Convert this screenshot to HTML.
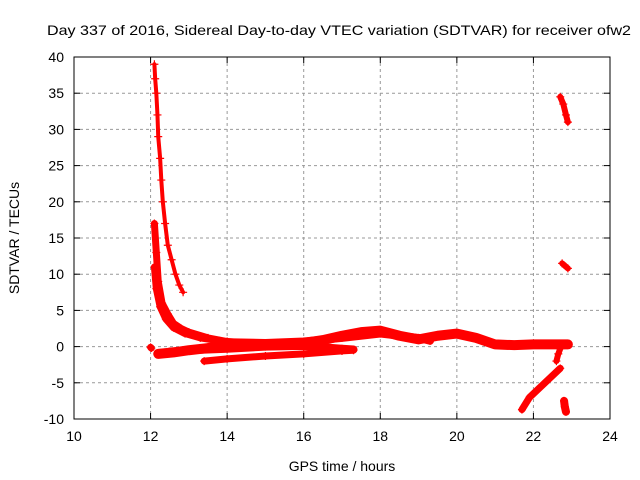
<!DOCTYPE html>
<html><head><meta charset="utf-8"><style>
body{margin:0;background:#fff;}
svg{display:block;font-family:"Liberation Sans",sans-serif;}
</style></head><body>
<svg id="chart" width="640" height="480">
<text x="339" y="35" font-size="14" text-anchor="middle" textLength="584" lengthAdjust="spacingAndGlyphs">Day 337 of 2016, Sidereal Day-to-day VTEC variation (SDTVAR) for receiver ofw2</text>
<text x="342" y="471" font-size="14" text-anchor="middle">GPS time / hours</text>
<text x="19" y="238" font-size="14" text-anchor="middle" transform="rotate(-90 19 238)">SDTVAR / TECUs</text>
<g id="grid"></g><g id="ticks"></g><g id="marks"></g>
<rect x="74" y="57" width="536" height="362" fill="none" stroke="#000" stroke-width="1"/>
</svg>
<script>
const xTicks=[10,12,14,16,18,20,22,24];
const yTicks=[-10,-5,0,5,10,15,20,25,30,35,40];
const trackA_t=[12.1,12.12,12.15,12.18,12.2,12.25,12.28,12.32,12.38,12.45,12.55,12.65,12.75,12.85];
const trackA_v=[39,37,35,32,29,26,23,20,17,14,12,10,8.5,7.5];
const trackB_t=[12.1,12.15,12.2,12.3,12.45,12.6,12.8,13,13.5,14,14.5];
const trackB_v=[17,13,9,6,4.5,3.2,2.5,2,1.2,0.7,0.5];
const trackC_t=[12.1,12.15,12.25,12.4,12.6,12.9,13.3,13.8,14.3];
const trackC_v=[11,8,5.5,3.8,2.6,1.8,1.2,0.8,0.5];
const trackD_t=[12.2,12.6,13,13.5,14,15,16,16.5,17,17.5,18,18.5,19,19.5,20,20.5,21,21.5,22,22.5,22.9];
const trackD_v=[-1,-0.8,-0.5,-0.2,0,0.2,0.5,0.9,1.5,2,2.2,1.5,1,1.5,1.8,1.2,0.3,0.2,0.3,0.3,0.3];
const trackE_t=[12.5,13,14,15,16,17,17.3];
const trackE_v=[-0.7,-0.5,-0.3,0,0.1,-0.3,-0.4];
const trackF_t=[13.4,14,15,16,17,17.3];
const trackF_v=[-2,-1.7,-1.3,-1,-0.6,-0.5];
const trackG_t=[14,15,16,17,18,19,19.3];
const trackG_v=[0.6,0.5,0.7,1.2,1.8,1.2,0.8];
const trackH_t=[21.7,21.9,22.1,22.3,22.5,22.7];
const trackH_v=[-8.7,-7,-6,-5,-4,-3];
const trackI_t=[22.6,22.65,22.7];
const trackI_v=[-2,-1,-0.3];
const trackJ_t=[22.7,22.78,22.85,22.9];
const trackJ_v=[34.5,33.5,32,31];
const trackK_t=[22.75,22.9];
const trackK_v=[11.5,10.8];
const trackL_t=[22.8,22.82,22.85];
const trackL_v=[-7.5,-8.3,-9];
const trackM_t=[12,12.02];
const trackM_v=[-0.1,-0.2];
const X=h=>74+(h-10)*536/14, Y=v=>57+(40-v)*362/50;
const NS='http://www.w3.org/2000/svg';
function mk(tag,attrs,parent){const e=document.createElementNS(NS,tag);for(const k in attrs)e.setAttribute(k,attrs[k]);parent.appendChild(e);return e;}
const grid=document.getElementById('grid'),ticks=document.getElementById('ticks'),marks=document.getElementById('marks');
xTicks.forEach(t=>{const x=X(t);
 if(t>10&&t<24){const g=mk('line',{x1:x,x2:x,y1:57,y2:419,stroke:'#999','stroke-dasharray':'3,3'},grid);
 }
 mk('line',{x1:x,x2:x,y1:419,y2:413,stroke:'#000'},ticks);mk('line',{x1:x,x2:x,y1:57,y2:63,stroke:'#000'},ticks);
 const l=mk('text',{x:x,y:441,'font-size':14,'text-anchor':'middle'},ticks);l.textContent=t;
 });
yTicks.forEach(t=>{const y=Y(t);
 if(t>-10&&t<40){const g=mk('line',{x1:74,x2:610,y1:y,y2:y,stroke:'#999','stroke-dasharray':'3,3'},grid);
 }
 mk('line',{x1:74,x2:80,y1:y,y2:y,stroke:'#000'},ticks);mk('line',{x1:610,x2:604,y1:y,y2:y,stroke:'#000'},ticks);
 const l=mk('text',{x:64,y:y+5,'font-size':14,'text-anchor':'end'},ticks);l.textContent=t;
 });
const tracks=[[trackA_t,trackA_v,4],[trackB_t,trackB_v,7],[trackC_t,trackC_v,7],[trackD_t,trackD_v,10],[trackE_t,trackE_v,8],[trackF_t,trackF_v,7],[trackG_t,trackG_v,8],[trackH_t,trackH_v,7],[trackI_t,trackI_v,6],[trackJ_t,trackJ_v,6],[trackK_t,trackK_v,6],[trackL_t,trackL_v,8],[trackM_t,trackM_v,7]];
tracks.forEach(([ts,vs,w],i)=>{
 const pts=ts.map((t,j)=>X(t)+','+Y(vs[j])).join(' ');
 const p=mk('polyline',{points:pts,fill:'none',stroke:'#f00','stroke-width':w,'stroke-linejoin':'round','stroke-linecap':'round'},marks);
 
 ts.forEach((t,j)=>{const x=X(t),y=Y(vs[j]);
  const m=mk('path',{d:`M${x-4},${y}H${x+4}M${x},${y-4}V${y+4}`,stroke:'#f00','stroke-width':1.2},marks);
  });
});
</script>
</body></html>
